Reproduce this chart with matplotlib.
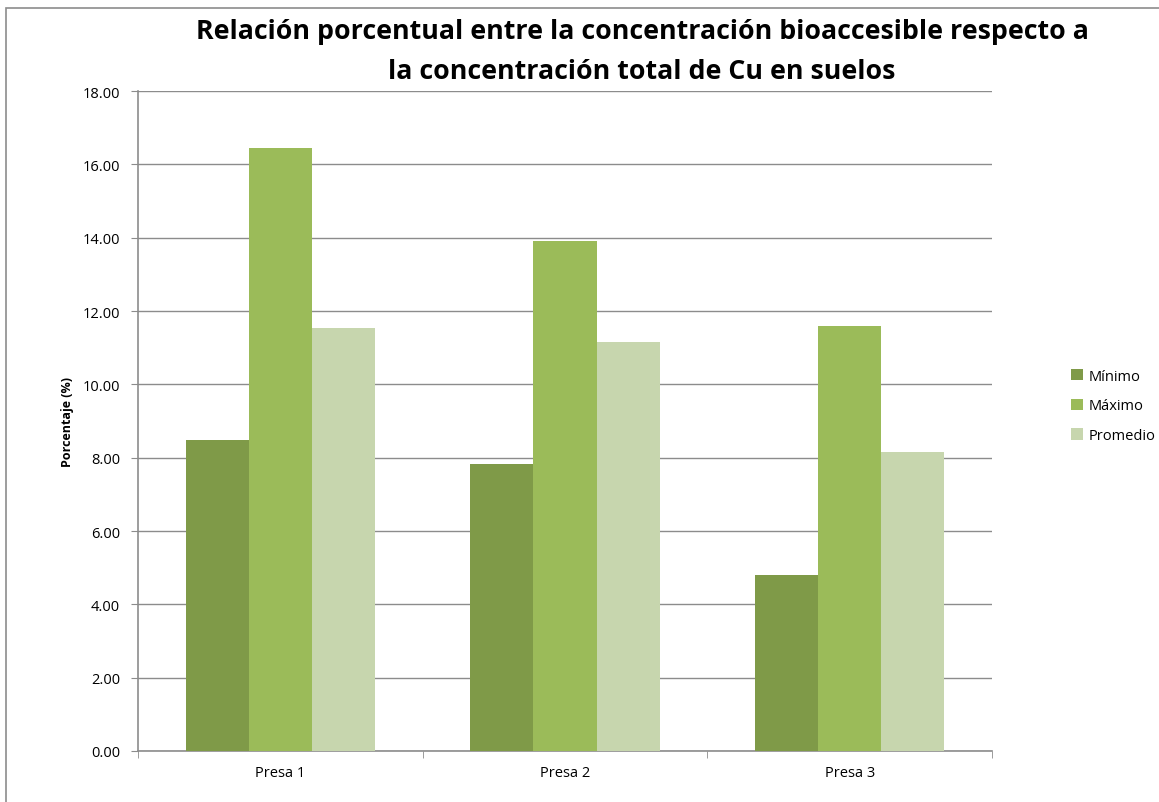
import numpy as np
import matplotlib.pyplot as plt
from matplotlib.patches import Rectangle

categorias = ['Presa 1', 'Presa 2', 'Presa 3']
series = ['Mínimo', 'Máximo', 'Promedio']
minimo = [8.48, 7.83, 4.80]
maximo = [16.44, 13.91, 11.59]
promedio = [11.54, 11.15, 8.15]
colores = ['#7F9A48', '#9BBB59', '#C7D6AE']

plt.rcParams['font.family'] = ['Open Sans', 'DejaVu Sans']

fig = plt.figure(figsize=(11.59, 8.03), dpi=100)
ax = fig.add_axes([138/1159, 1-752/803, 854/1159, 660/803])

# borde del grafico
fig.patches.append(Rectangle((6/1159, -0.1), 1.2, (803-9)/803 + 0.1,
                             transform=fig.transFigure, fill=False,
                             edgecolor='#8C8C8C', linewidth=1.2))

x = np.arange(len(categorias))
ancho = 0.222
for i, (nombre, vals) in enumerate(zip(series, [minimo, maximo, promedio])):
    ax.bar(x + (i - 1) * ancho, vals, ancho, color=colores[i], label=nombre, zorder=3)

ax.set_xlim(-0.5, 2.5)
ax.set_ylim(0, 18)
ax.set_yticks(np.arange(0, 18.01, 2))
ax.set_yticklabels([f'{v:.2f}' for v in np.arange(0, 18.01, 2)], fontsize=10.5)
ax.yaxis.grid(True, color='#8C8C8C', linewidth=1, zorder=0)
ax.set_xticks(x)
ax.set_xticklabels(categorias, fontsize=10.5)
ax.set_xticks([-0.5, 0.5, 1.5, 2.5], minor=True)
ax.tick_params(axis='x', which='major', length=0, pad=10)
ax.tick_params(axis='x', which='minor', length=5, color='#8C8C8C', direction='out')
ax.tick_params(axis='y', length=5, color='#8C8C8C', direction='out', pad=8)
for s in ['top', 'right']:
    ax.spines[s].set_visible(False)
for s in ['left', 'bottom']:
    ax.spines[s].set_color('#8C8C8C')
    ax.spines[s].set_linewidth(1.2)

ax.set_ylabel('Porcentaje (%)', fontsize=9, fontweight='bold', labelpad=6)

fig.text(642/1159, 1-32/803, 'Relación porcentual entre la concentración bioaccesible respecto a',
         ha='center', va='center', fontsize=19.3, fontweight='bold')
fig.text(642/1159, 1-72/803, 'la concentración total de Cu en suelos',
         ha='center', va='center', fontsize=19.3, fontweight='bold')

fig.legend(loc='center left', bbox_to_anchor=(1058/1159, 1-407/803), frameon=False,
           fontsize=10.5, handlelength=0.8, handleheight=0.8, handletextpad=0.4,
           labelspacing=1.0)

fig.savefig('out.png', dpi=100)
